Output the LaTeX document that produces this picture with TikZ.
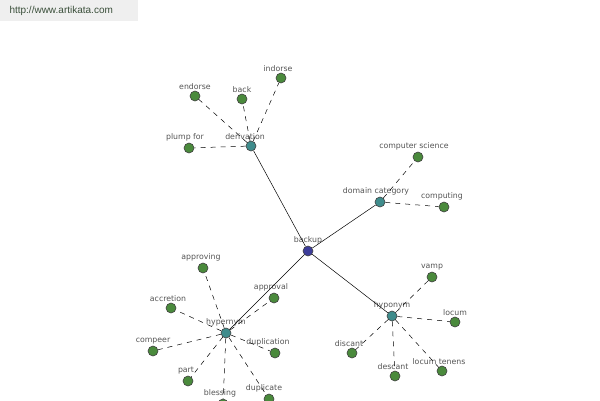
\documentclass[tikz,border=0pt]{standalone}
\usepackage{fontspec}
\setmainfont{Liberation Sans}
\newfontfamily\lblfont{DejaVu Sans}
\usepackage{xcolor}
\usepackage{tikz}
\usetikzlibrary{arrows.meta,positioning}
\definecolor{akBlue}{HTML}{3C3C9A}
\definecolor{akTeal}{HTML}{3F8C8C}
\definecolor{akGreen}{HTML}{4A8A3C}
\definecolor{akText}{HTML}{555555}
\definecolor{akBand}{HTML}{EFEFEF}
\definecolor{akUrl}{HTML}{3A4F3A}

\begin{document}
\begin{tikzpicture}[
  x=1pt,y=-1pt,
  dot/.style={circle,draw=black!75,line width=0.6pt,inner sep=0pt,minimum size=10pt,
    label distance=-1.5pt},
  root/.style={dot,fill=akBlue},
  rel/.style={dot,fill=akTeal},
  leaf/.style={dot,fill=akGreen},
  lbl/.style={font=\lblfont\fontsize{7.8}{9}\selectfont,text=akText,inner sep=1pt},
  link/.style={draw=black,line width=0.5pt},
  sub/.style={draw=black,line width=0.5pt,dash pattern=on 5pt off 5pt}
]
\clip (0,0) rectangle (600,400);
\useasboundingbox (0,0) rectangle (600,400);
\fill[white] (0,0) rectangle (600,400);
\fill[akBand] (0,0) rectangle (138,21);
\node[font=\fontsize{10}{11}\selectfont,text=akUrl,anchor=west] (url) at (6,11) {http://www.artikata.com};

\node[root,label={[lbl]above:backup}] (backup) at (308,251) {};
\node[rel,label={[lbl,xshift=-6pt]above:derivation}] (deriv) at (251,146) {};
\node[rel,label={[lbl,xshift=-4pt]above:domain category}] (domain) at (380,202) {};
\node[rel,label={[lbl]above:hypernym}] (hyper) at (226,333) {};
\node[rel,label={[lbl]above:hyponym}] (hypo) at (392,316) {};

% derivation
\node[leaf,label={[lbl]above:endorse}] (endorse) at (195,96) {};
\node[leaf,label={[lbl]above:back}] (back) at (242,99) {};
\node[leaf,label={[lbl,xshift=-3pt]above:indorse}] (indorse) at (281,78) {};
\node[leaf,label={[lbl,xshift=-4pt]above:plump for}] (plump) at (189,148) {};
% domain category
\node[leaf,label={[lbl,xshift=-4pt]above:computer science}] (compsci) at (418,157) {};
\node[leaf,label={[lbl,xshift=-2pt]above:computing}] (computing) at (444,207) {};
% hypernym
\node[leaf,label={[lbl,xshift=-2pt]above:approving}] (approving) at (203,268) {};
\node[leaf,label={[lbl,xshift=-3pt]above:accretion}] (accretion) at (171,308) {};
\node[leaf,label={[lbl]above:compeer}] (compeer) at (153,351) {};
\node[leaf,label={[lbl,xshift=-2pt]above:part}] (part) at (188,381) {};
\node[leaf,label={[lbl,xshift=-3pt]above:blessing}] (blessing) at (223,404) {};
\node[leaf,label={[lbl,xshift=-5pt]above:duplicate}] (duplicate) at (269,399) {};
\node[leaf,label={[lbl,xshift=-7pt]above:duplication}] (duplication) at (275,353) {};
\node[leaf,label={[lbl,xshift=-3pt]above:approval}] (approval) at (274,298) {};
% hyponym
\node[leaf,label={[lbl]above:vamp}] (vamp) at (432,277) {};
\node[leaf,label={[lbl]above:locum}] (locum) at (455,322) {};
\node[leaf,label={[lbl,xshift=-3pt]above:locum tenens}] (tenens) at (442,371) {};
\node[leaf,label={[lbl,xshift=-2pt]above:descant}] (descant) at (395,376) {};
\node[leaf,label={[lbl,xshift=-3pt]above:discant}] (discant) at (352,353) {};

\draw[link] (backup)--(deriv);
\draw[link] (backup)--(domain);
\draw[link] (backup)--(hyper);
\draw[link] (backup)--(hypo);

\foreach \leafname in {endorse,back,indorse,plump}
  \draw[sub] (deriv)--(\leafname);
\foreach \leafname in {compsci,computing}
  \draw[sub] (domain)--(\leafname);
\foreach \leafname in {approving,accretion,compeer,part,blessing,duplicate,duplication,approval}
  \draw[sub] (hyper)--(\leafname);
\foreach \leafname in {vamp,locum,tenens,descant,discant}
  \draw[sub] (hypo)--(\leafname);
\end{tikzpicture}
\end{document}
